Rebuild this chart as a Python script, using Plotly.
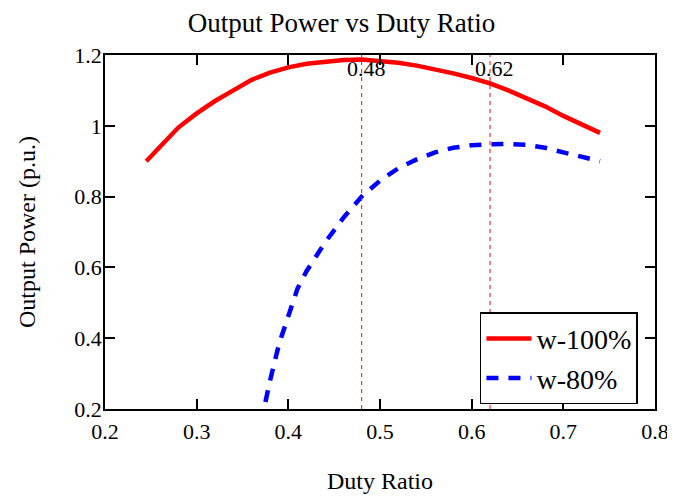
import plotly.graph_objects as go

# w-100% curve
duty_100 = [0.245, 0.26, 0.28, 0.30, 0.32, 0.34, 0.36, 0.38, 0.40, 0.42, 0.44, 0.46,
            0.48, 0.50, 0.52, 0.54, 0.56, 0.58, 0.60, 0.62, 0.64, 0.66, 0.68, 0.70,
            0.72, 0.74]
power_100 = [0.90, 0.94, 0.995, 1.035, 1.07, 1.10, 1.13, 1.15, 1.165, 1.175, 1.182,
             1.186, 1.187, 1.184, 1.178, 1.17, 1.16, 1.148, 1.135, 1.12, 1.10, 1.078,
             1.055, 1.028, 1.005, 0.98]

# w-80% curve
duty_80 = [0.375, 0.38, 0.39, 0.40, 0.41, 0.42, 0.44, 0.46, 0.48, 0.50, 0.52, 0.54,
           0.56, 0.58, 0.60, 0.62, 0.64, 0.66, 0.68, 0.70, 0.72, 0.74]
power_80 = [0.22, 0.28, 0.385, 0.465, 0.54, 0.59, 0.67, 0.74, 0.80, 0.845, 0.88, 0.905,
            0.925, 0.938, 0.945, 0.948, 0.949, 0.946, 0.938, 0.925, 0.912, 0.90]

markers = [0.48, 0.62]
marker_labels = ["0.48", "0.62"]

FONT = "Liberation Serif"

fig = go.Figure()
fig.add_trace(go.Scatter(x=duty_100, y=power_100, mode="lines", name="w-100%",
                         line=dict(color="#ff0000", width=4.5)))
fig.add_trace(go.Scatter(x=duty_80, y=power_80, mode="lines", name="w-80%",
                         line=dict(color="#0000ff", width=4.5, dash="12px,10px")))

for xv, lab in zip(markers, marker_labels):
    fig.add_shape(type="line", x0=xv, x1=xv, y0=0.2, y1=1.2, xref="x", yref="y",
                  line=dict(color="#ff0000", width=1, dash="4px,4px"))
    fig.add_annotation(x=xv, y=1.2, xref="x", yref="y", text=lab, showarrow=False,
                       xanchor="left", yanchor="top", xshift=-17, yshift=1,
                       font=dict(family=FONT, size=22, color="black"))

axis_common = dict(showline=True, linecolor="black", linewidth=1.5, mirror="allticks",
                   ticks="inside", ticklen=10, tickwidth=1.5, tickcolor="black",
                   showgrid=False, zeroline=False, automargin=False,
                   tickfont=dict(family=FONT, size=22, color="black"))

# the page body has an 8px margin, so the figure is sized to fit after it
fig.update_layout(
    width=667, height=488,
    margin=dict(l=97, r=20, t=47, b=87),
    plot_bgcolor="white", paper_bgcolor="white",
    title=dict(text="Output Power vs Duty Ratio", x=0.5, xanchor="center",
               y=0.97, yanchor="middle",
               font=dict(family=FONT, size=27, color="black")),
    xaxis=dict(range=[0.2, 0.8], dtick=0.1, tick0=0.2, ticklabelstandoff=2,
               title=dict(text="Duty Ratio", standoff=29,
                          font=dict(family=FONT, size=24, color="black")),
               **axis_common),
    yaxis=dict(range=[0.2, 1.2], dtick=0.2, tick0=0.2, ticklabelstandoff=-3,
               title=dict(text="Output Power (p.u.)", standoff=32,
                          font=dict(family=FONT, size=24, color="black")),
               **axis_common),
    legend=dict(x=0.969, y=0.143, xanchor="right", yanchor="middle",
                bgcolor="white", bordercolor="black", borderwidth=1.5,
                font=dict(family=FONT, size=28, color="black"),
                itemwidth=45, tracegroupgap=0),
    showlegend=True,
)

fig.write_html("out.html")
